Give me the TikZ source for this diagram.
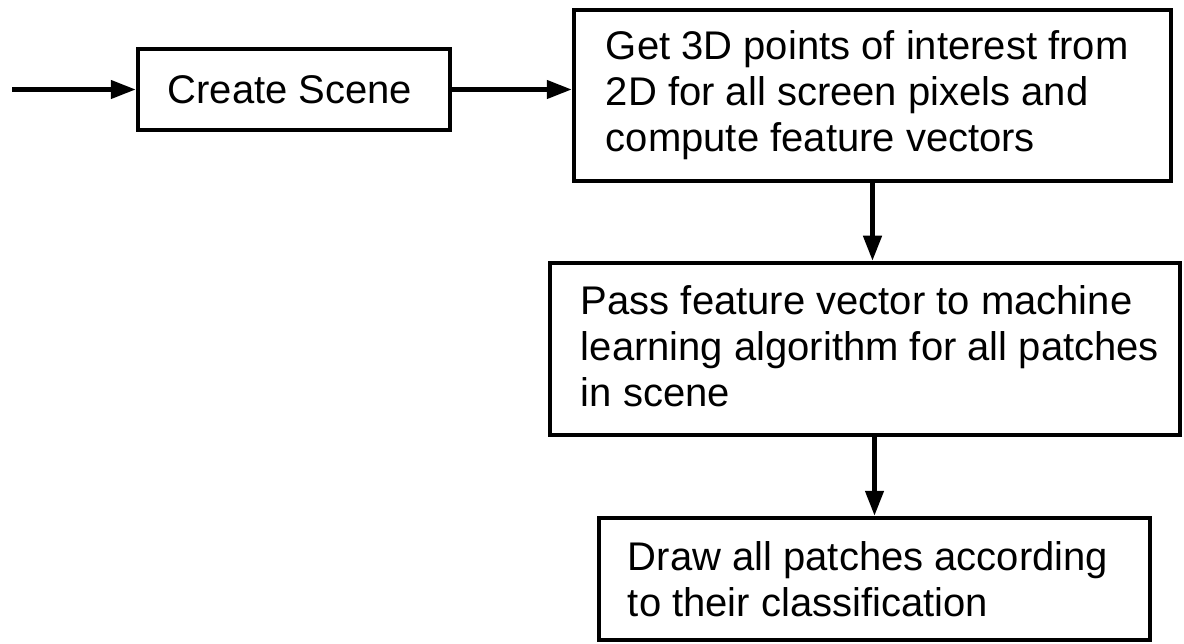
\documentclass[tikz,border=0pt]{standalone}
\usepackage{fontspec}
\setmainfont{Liberation Sans}
\usetikzlibrary{arrows.meta}
\begin{document}
\begin{tikzpicture}[x=1pt,y=-1pt,
  box/.style={draw=black,line width=4.5pt,rectangle,inner sep=0pt,fill=white},
  txt/.style={anchor=west,align=left,inner sep=0pt,font=\fontsize{40}{46}\selectfont},
  arr/.style={line width=4.5pt,-{Triangle[length=25pt,width=18pt]}}]
\useasboundingbox (0,0) rectangle (1184,644);
\node[box,minimum width=312pt,minimum height=81pt] (b1) at (294,89.5) {};
\node[txt,anchor=center] (t1) at ([xshift=-4pt]b1.center) {Create Scene};
\node[box,minimum width=597pt,minimum height=171pt] (b2) at (872.5,95.5) {};
\node[txt] (t2) at ([xshift=34pt]b2.west) {Get 3D points of interest from\\2D for all screen pixels and\\compute feature vectors};
\node[box,minimum width=630pt,minimum height=172pt] (b3) at (865,349) {};
\node[txt] (t3) at ([xshift=33pt,yshift=3pt]b3.west) {Pass feature vector to machine\\learning algorithm for all patches\\in scene};
\node[box,minimum width=551pt,minimum height=122pt] (b4) at (874.5,579) {};
\node[txt] (t4) at ([xshift=31pt]b4.west) {Draw all patches according\\to their classification};
\coordinate (in) at (12,89.5);
\draw[arr] (in) -- (b1.west);
\draw[arr] (b1.east) -- (b1.east -| b2.west);
\draw[arr] (b2.south) -- (b2.south |- b3.north);
\draw[arr] (b4.north |- b3.south) -- (b4.north);
\end{tikzpicture}
\end{document}
